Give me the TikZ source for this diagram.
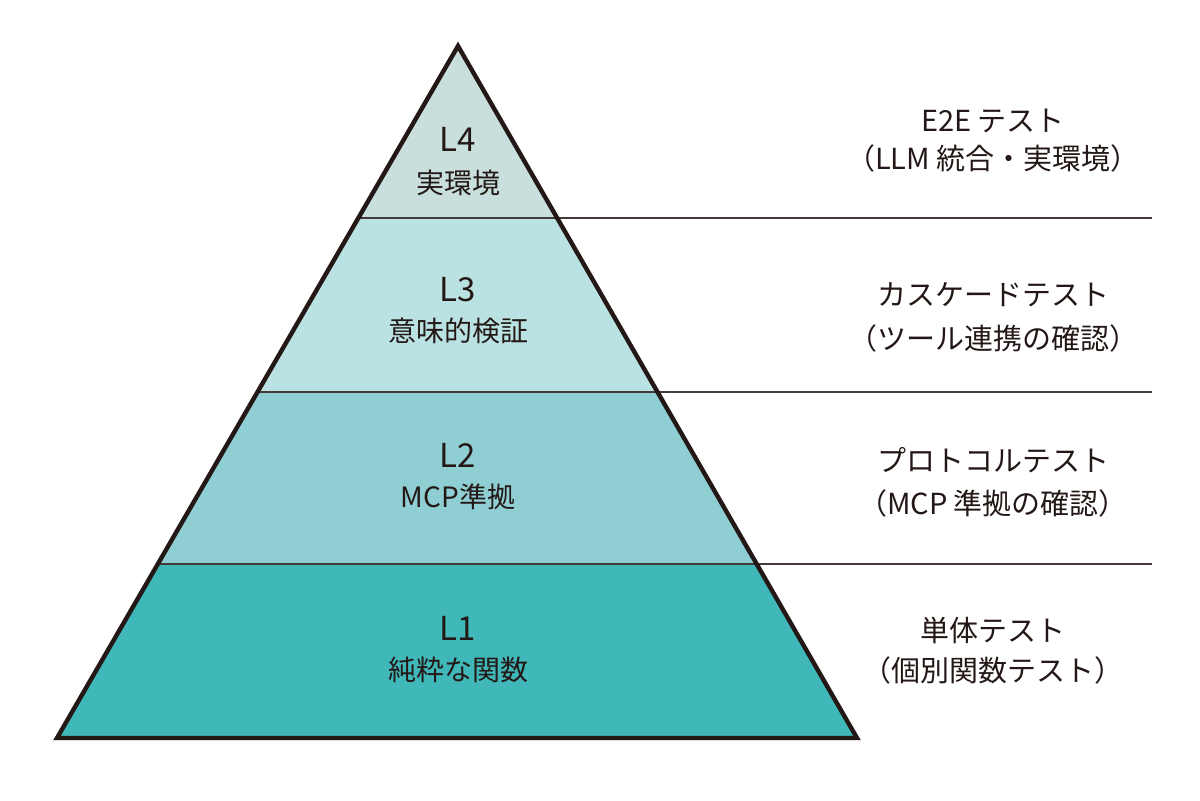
\documentclass[tikz,border=0pt]{standalone}
\usepackage{fontspec}
\setmainfont{Noto Sans CJK JP}
\usepackage{tikz}
\usetikzlibrary{positioning}
\usetikzlibrary{calc}
\definecolor{layerfour}{HTML}{C8DFDD}
\definecolor{layerthree}{HTML}{BBE2E2}
\definecolor{layertwo}{HTML}{8FCFD4}
\definecolor{layerone}{HTML}{40B8BA}
\definecolor{outline}{HTML}{231815}
\tikzset{
    layer/.style={draw=none},
    divider/.style={draw=outline!85, line width=1.1pt},
    pyramid/.style={draw=outline, line width=2.2pt, line join=miter},
    levelname/.style={font=\fontsize{16.5}{18}\selectfont, text=outline},
    levelsub/.style={font=\fontsize{14}{16}\selectfont, text=outline},
    testname/.style={font=\fontsize{14.5}{17}\selectfont, text=outline, align=center},
}

\begin{document}
\begin{tikzpicture}[x=0.5pt, y=-0.5pt]
	\useasboundingbox (0,0) rectangle (1200,800);
	% corners of the pyramid and of the layers
	\coordinate (apex) at (458,46);
	\coordinate (bl) at (57,738);
	\coordinate (br) at (857,738);
	\coordinate (l4l) at (358.6,218);
	\coordinate (l4r) at (557.4,218);
	\coordinate (l3l) at (258,392);
	\coordinate (l3r) at (658,392);
	\coordinate (l2l) at (158.6,564);
	\coordinate (l2r) at (757.4,564);
	\coordinate (e4) at (1152,218);
	\coordinate (e3) at (1152,392);
	\coordinate (e2) at (1152,564);
	% layers
	\fill[layerfour] (apex)--(l4r)--(l4l)--cycle;
	\fill[layerthree] (l4l)--(l4r)--(l3r)--(l3l)--cycle;
	\fill[layertwo] (l3l)--(l3r)--(l2r)--(l2l)--cycle;
	\fill[layerone] (l2l)--(l2r)--(br)--(bl)--cycle;
	\draw[divider] (l4l)--(e4);
	\draw[divider] (l3l)--(e3);
	\draw[divider] (l2l)--(e2);
	\draw[pyramid] (apex)--(br)--(bl)--cycle;
	% labels inside
	\node[levelname] (n4) at (458,139) {L4};
	\node[levelsub] (s4) at (458,183) {実環境};
	\node[levelname] (n3) at (458,290) {L3};
	\node[levelsub] (s3) at (458,331) {意味的検証};
	\node[levelname] (n2) at (458,455) {L2};
	\node[levelsub] (s2) at (458,497) {MCP準拠};
	\node[levelname] (n1) at (458,628) {L1};
	\node[levelsub] (s1) at (458,670) {純粋な関数};
	% test kinds on the right
	\node[testname] (t4) at (993,121) {E2E テスト};
	\node[testname] (u4) at (993,158) {（LLM 統合・実環境）};
	\node[testname] (t3) at (993,295) {カスケードテスト};
	\node[testname] (u3) at (993,338) {（ツール連携の確認）};
	\node[testname] (t2) at (993,460) {プロトコルテスト};
	\node[testname] (u2) at (993,503) {（MCP 準拠の確認）};
	\node[testname] (t1) at (993,630) {単体テスト};
	\node[testname] (u1) at (993,670) {（個別関数テスト）};
\end{tikzpicture}
\end{document}
